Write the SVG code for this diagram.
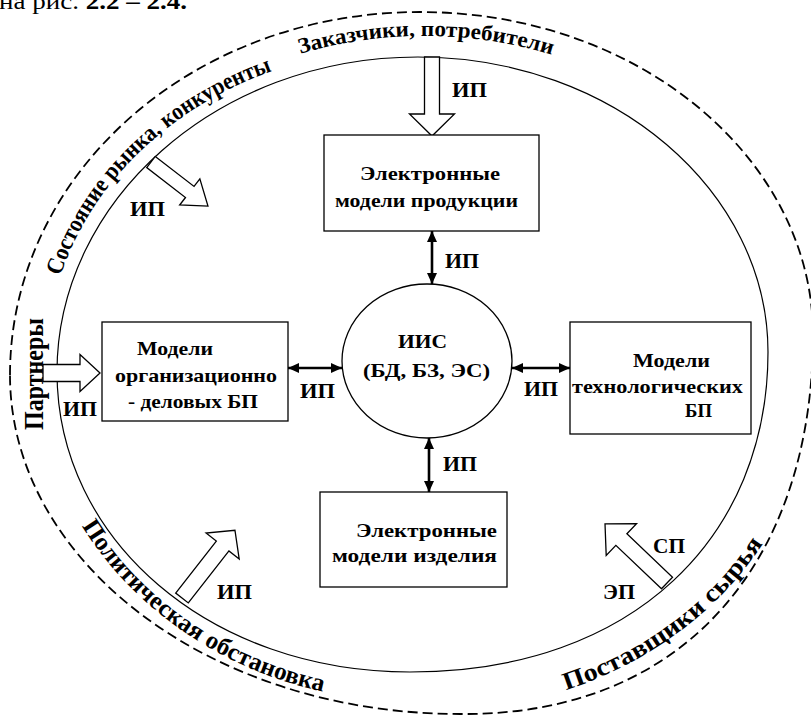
<svg xmlns="http://www.w3.org/2000/svg" width="811" height="715" viewBox="0 0 811 715">
<style>
text{font-family:'Liberation Serif','Times New Roman','DejaVu Serif',serif;font-weight:bold;fill:#000}
.lb{font-size:21px}
.bx{font-size:19px}
.arc{font-size:24px}
.box{fill:#fff;stroke:#000;stroke-width:1.3}
.hol{fill:#fff;stroke:#000;stroke-width:1.3;stroke-linejoin:miter}
.dbl{stroke:#000;stroke-width:2.6;fill:none;marker-start:url(#ah);marker-end:url(#ah)}
</style>
<defs>
<marker id="ah" markerUnits="userSpaceOnUse" markerWidth="12" markerHeight="10" refX="11" refY="5" orient="auto-start-reverse">
<path d="M0,0 L11,5 L0,10 z" fill="#000"/>
</marker>
<path id="pTop" d="M 296 55 A 381 326 0 0 1 556 56"/>
<path id="pLT" d="M 60.4 276 A 365 316 0 0 1 287 66"/>
<path id="pBL" d="M 82 526 A 380 340 0 0 0 334 694"/>
<path id="pBR" d="M 566 690 A 380 330 0 0 0 770 532"/>
</defs>
<rect width="811" height="715" fill="#fff"/>
<text x="-1" y="9" style="font-size:23px;font-weight:normal" textLength="188" lengthAdjust="spacingAndGlyphs">на рис. <tspan font-weight="bold">2.2 – 2.4.</tspan></text>

<g id="outer">
<path d="M 10 375 C 10 175 191 12 420 12 C 640 12 813 160 813 335 C 813 555 690 716 460 714 C 211 714 10 562 10 375 Z" fill="none" stroke="#000" stroke-width="1.8" stroke-dasharray="10,5"/>
</g>
<g id="inner">
<path d="M 57 372 C 57 202 216 57 418 57 C 614 57 768 192 768 352 C 768 535 635 672 410 672 C 210 672 57 540 57 372 Z" fill="none" stroke="#000" stroke-width="1.2"/>
</g>

<g id="env-labels">
<text class="arc" style="font-size:22px"><textPath href="#pTop" startOffset="50%" text-anchor="middle" textLength="255" lengthAdjust="spacingAndGlyphs">Заказчики, потребители</textPath></text>
<text class="arc"><textPath href="#pLT" startOffset="0" textLength="305" lengthAdjust="spacingAndGlyphs">Состояние рынка, конкуренты</textPath></text>
<text style="font-size:27px" transform="translate(43,430) rotate(-90)" textLength="112" lengthAdjust="spacingAndGlyphs">Партнеры</text>
<text class="arc" style="font-size:25px"><textPath href="#pBL" startOffset="0" textLength="300" lengthAdjust="spacingAndGlyphs">Политическая обстановка</textPath></text>
<text class="arc" style="font-size:25px"><textPath href="#pBR" startOffset="0" textLength="250" lengthAdjust="spacingAndGlyphs">Поставщики сырья</textPath></text>
</g>

<g id="connectors">
<polygon class="hol" points="0,-7.5 57,-7.5 57,-22.5 79,0 57,22.5 57,7.5 0,7.5" transform="translate(432,57) rotate(90)"/>
<polygon class="hol" points="0,-8.5 37,-8.5 37,-18.5 57,0 37,18.5 37,8.5 0,8.5" transform="translate(43,373)"/>
<polygon class="hol" points="0,-7 49,-7 49,-16.5 72,0 49,16.5 49,7 0,7" transform="translate(151,162) rotate(37.7)"/>
<polygon class="hol" points="0,-8 66,-8 66,-21 86,0 66,21 66,8 0,8" transform="translate(182,598) rotate(-52)"/>
<polygon class="hol" points="0,-8 63,-8 63,-22 85.6,0 63,22 63,8 0,8" transform="translate(667,583) rotate(-136.4)"/>
<line class="dbl" x1="432" y1="231" x2="432" y2="284"/>
<line class="dbl" x1="429" y1="438" x2="429" y2="492"/>
<line class="dbl" x1="288" y1="368" x2="342" y2="368"/>
<line class="dbl" x1="512" y1="368" x2="570" y2="368"/>
<text class="lb" x="452" y="97" textLength="35" lengthAdjust="spacingAndGlyphs">ИП</text>
<text class="lb" x="445" y="268" textLength="34" lengthAdjust="spacingAndGlyphs">ИП</text>
<text class="lb" x="300" y="398" textLength="35" lengthAdjust="spacingAndGlyphs">ИП</text>
<text class="lb" x="524" y="396" textLength="34" lengthAdjust="spacingAndGlyphs">ИП</text>
<text class="lb" x="443" y="471" textLength="34" lengthAdjust="spacingAndGlyphs">ИП</text>
<text class="lb" x="130" y="216" textLength="35" lengthAdjust="spacingAndGlyphs">ИП</text>
<text class="lb" x="63" y="416" textLength="34" lengthAdjust="spacingAndGlyphs">ИП</text>
<text class="lb" x="217" y="599" textLength="35" lengthAdjust="spacingAndGlyphs">ИП</text>
<text class="lb" x="653" y="553" textLength="32" lengthAdjust="spacingAndGlyphs">СП</text>
<text class="lb" x="603" y="599" textLength="32" lengthAdjust="spacingAndGlyphs">ЭП</text>
</g>

<g id="node-top">
<rect class="box" x="324" y="135" width="215" height="96"/>
<text class="bx" x="360" y="180" textLength="140" lengthAdjust="spacingAndGlyphs">Электронные</text>
<text class="bx" x="335" y="207" textLength="183" lengthAdjust="spacingAndGlyphs">модели продукции</text>
</g>
<g id="node-left">
<rect class="box" x="102" y="322" width="186" height="99"/>
<text class="bx" x="137" y="355" textLength="76" lengthAdjust="spacingAndGlyphs">Модели</text>
<text class="bx" x="115" y="382" textLength="162" lengthAdjust="spacingAndGlyphs">организационно</text>
<text class="bx" x="128" y="408" textLength="130" lengthAdjust="spacingAndGlyphs">- деловых БП</text>
</g>
<g id="node-right">
<rect class="box" x="570" y="322" width="181" height="112"/>
<text class="bx" x="633" y="367" textLength="77" lengthAdjust="spacingAndGlyphs">Модели</text>
<text class="bx" x="572" y="393" textLength="171" lengthAdjust="spacingAndGlyphs">технологических</text>
<text class="bx" x="685" y="417" textLength="27" lengthAdjust="spacingAndGlyphs">БП</text>
</g>
<g id="node-bottom">
<rect class="box" x="320" y="492" width="187" height="95"/>
<text class="bx" x="356" y="537" textLength="141" lengthAdjust="spacingAndGlyphs">Электронные</text>
<text class="bx" x="332" y="562" textLength="165" lengthAdjust="spacingAndGlyphs">модели изделия</text>
</g>
<g id="node-center">
<ellipse cx="427" cy="361" rx="85" ry="77" fill="#fff" stroke="#000" stroke-width="1.3"/>
<text class="bx" x="398" y="348" textLength="49" lengthAdjust="spacingAndGlyphs">ИИС</text>
<text class="bx" x="363" y="377" textLength="127" lengthAdjust="spacingAndGlyphs">(БД, БЗ, ЭС)</text>
</g>
</svg>
